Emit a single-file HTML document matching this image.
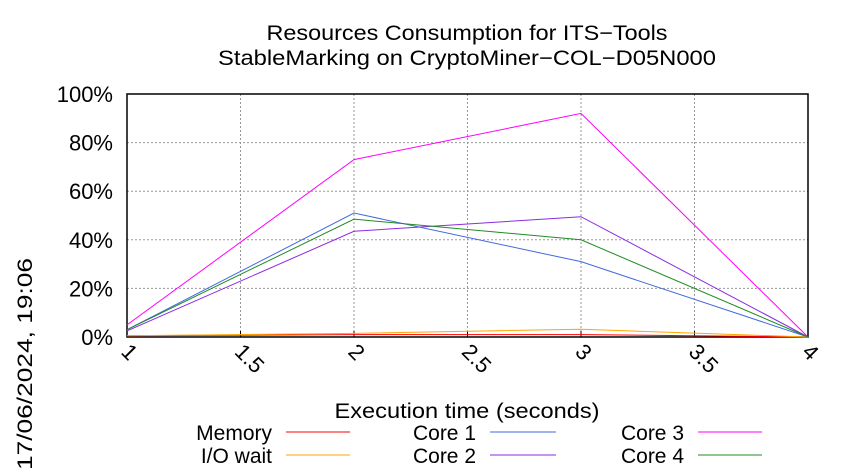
<!DOCTYPE html>
<html><head><meta charset="utf-8"><style>
body{margin:0;background:#fff;}
svg{display:block;font-family:"Liberation Sans",sans-serif;}
</style></head><body>
<svg id="c" width="850" height="475" viewBox="0 0 850 475">
<text x="467" y="40" font-size="21" text-anchor="middle" textLength="401" lengthAdjust="spacingAndGlyphs">Resources Consumption for ITS−Tools</text>
<text x="467" y="65" font-size="21" text-anchor="middle" textLength="498" lengthAdjust="spacingAndGlyphs">StableMarking on CryptoMiner−COL−D05N000</text>
<text transform="translate(32,470) rotate(-90)" font-size="21" textLength="212" lengthAdjust="spacingAndGlyphs">17/06/2024, 19:06</text>
<text x="467" y="418" font-size="21" text-anchor="middle" textLength="265" lengthAdjust="spacingAndGlyphs">Execution time (seconds)</text>
<g id="grid"></g><g id="series"></g><g id="legend"></g>
</svg>
<script>
const xTicks=[1,1.5,2,2.5,3,3.5,4];
const yTicks=[0,20,40,60,80,100];
const times=[1,2,3,4];
const memory=[0.5,1,1,0];
const ioWait=[0.5,1.5,3.2,0];
const core1=[3,51,31,0];
const core2=[2.5,43.5,49.5,0];
const core3=[5,73,92,0];
const core4=[3,48.5,40,0];
const seriesNames=["Memory","I/O wait","Core 1","Core 2","Core 3","Core 4"];
const seriesData=[memory,ioWait,core1,core2,core3,core4];
const colors=["#ff0000","#ffa500","#4169e1","#8a2be2","#ff00ff","#228b22"];
const L=127,R=808,T=94,B=337;
const sx=v=>L+(v-1)/3*(R-L), sy=v=>B-v/100*(B-T);
const NS="http://www.w3.org/2000/svg";
function mk(tag,attrs,parent){const e=document.createElementNS(NS,tag);for(const k in attrs)e.setAttribute(k,attrs[k]);parent.appendChild(e);return e;}
const g=document.getElementById('grid');
xTicks.forEach(t=>{const x=sx(t);
 const l=mk('line',{x1:x,x2:x,y1:T,y2:B,stroke:'#999','stroke-dasharray':'2,2','stroke-width':1},g);
 
 
 const tk=mk('line',{x1:x,x2:x,y1:B,y2:B-6,stroke:'#000'},g);
 
 
 const tx=mk('text',{transform:`translate(${x-7},${B+16}) rotate(45)`,'font-size':22},g);tx.textContent=String(t);
 
 
});
yTicks.forEach(t=>{const y=sy(t);
 const l=mk('line',{x1:L,x2:R,y1:y,y2:y,stroke:'#999','stroke-dasharray':'2,2','stroke-width':1},g);
 
 
 const tx=mk('text',{x:L-14,y:y+8,'font-size':22,'text-anchor':'end'},g);tx.textContent=t+'%';
 
 
});
const fr=mk('rect',{x:L,y:T,width:R-L,height:B-T,fill:'none',stroke:'#000','stroke-width':1.5},g);


const s=document.getElementById('series');
seriesData.forEach((d,i)=>{
 const p=mk('polyline',{points:d.map((v,j)=>sx(times[j])+','+sy(v)).join(' '),fill:'none',stroke:colors[i],'stroke-width':1},s);
 
 
});
const lg=document.getElementById('legend');
const cols=[[272,350],[476,556],[684,762]];
seriesNames.forEach((n,i)=>{const c=Math.floor(i/2),r=i%2;const y=432+r*23;
 const t=mk('text',{x:cols[c][0],y:y+8,'font-size':21,'text-anchor':'end'},lg);t.textContent=n;
 
 
 const l=mk('line',{x1:cols[c][0]+14,x2:cols[c][1],y1:y,y2:y,stroke:colors[i]},lg);
 
 
});
</script>
</body></html>
